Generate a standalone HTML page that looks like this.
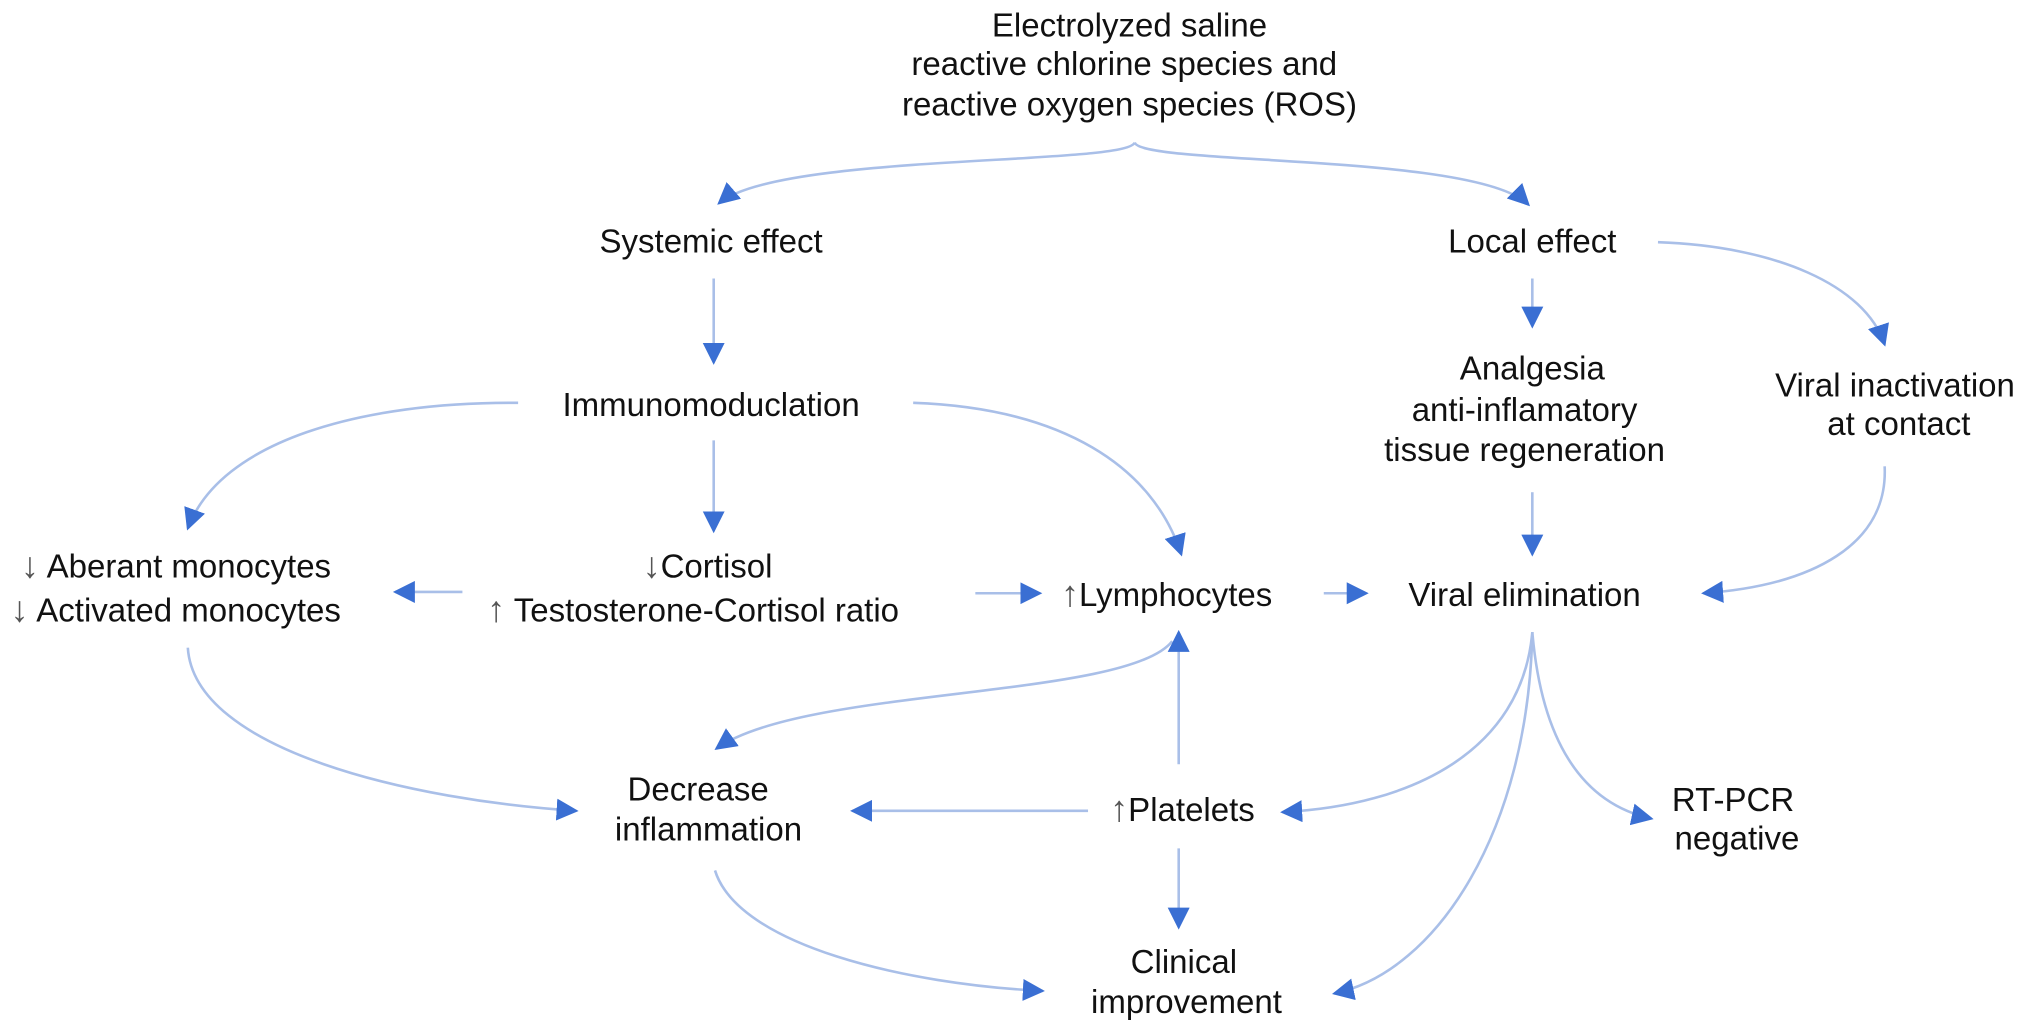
<!DOCTYPE html>
<html><head><meta charset="utf-8"><style>
html,body{margin:0;padding:0;background:#fff;}
svg{display:block;}
text{font-family:"Liberation Sans",Arial,sans-serif;font-size:25.5px;fill:#111;}
</style></head><body>
<svg width="2031" height="1033" viewBox="0 0 1568 797.5" preserveAspectRatio="none" xmlns="http://www.w3.org/2000/svg">
<defs>
<marker id="a" viewBox="0 0 10 10" refX="9" refY="5" markerWidth="17" markerHeight="17" markerUnits="userSpaceOnUse" orient="auto">
<path d="M0,0 L10,5 L0,10 z" fill="#3a6fd3"/>
</marker>
</defs>
<g fill="none" stroke="#a9bfe8" stroke-width="2" marker-end="url(#a)">
<path d="M876,110 C870,128 600,118 555,157"/>
<path d="M876,110 C882,128 1140,118 1180,158"/>
<path d="M551,215 L551,280"/>
<path d="M1183,215 L1183,252"/>
<path d="M1280,187 C1370,190 1440,220 1455,266"/>
<path d="M400,311 C280,310 170,340 145,408"/>
<path d="M551,340 L551,410"/>
<path d="M705,311 C820,315 890,360 912,428"/>
<path d="M357,457 L305,457"/>
<path d="M753,458 L803,458"/>
<path d="M1022,458 L1055,458"/>
<path d="M1183,380 L1183,428"/>
<path d="M1455,360 C1458,420 1400,452 1315,458"/>
<path d="M145,500 C150,580 320,618 445,626"/>
<path d="M905,495 C870,540 620,530 553,578"/>
<path d="M910,590 L910,488"/>
<path d="M840,626 L658,626"/>
<path d="M910,655 L910,716"/>
<path d="M552,672 C570,730 700,760 805,765"/>
<path d="M1183,488 C1175,580 1090,622 990,627"/>
<path d="M1183,488 C1180,640 1110,750 1030,767"/>
<path d="M1183,488 C1190,570 1220,620 1275,632"/>
</g>
<g text-anchor="middle">
<text x="872" y="28">Electrolyzed saline</text>
<text x="868" y="58">reactive chlorine species and</text>
<text x="872" y="89">reactive oxygen species (ROS)</text>
<text x="549" y="195">Systemic effect</text>
<text x="1183" y="195">Local effect</text>
<text x="549" y="321">Immunomoduclation</text>
<text x="1183" y="293">Analgesia</text>
<text x="1177" y="325">anti-inflamatory</text>
<text x="1177" y="356">tissue regeneration</text>
<text x="1463" y="306">Viral inactivation</text>
<text x="1466" y="336">at contact</text>
<text x="1177" y="468">Viral elimination</text>
<text x="539" y="618">Decrease</text>
<text x="547" y="649">inflammation</text>
<text x="914" y="751">Clinical</text>
<text x="916" y="782">improvement</text>
<text x="1338" y="626">RT-PCR</text>
<text x="1341" y="656">negative</text>
</g>
<g>
<text x="16" y="446"><tspan fill="#555" font-size="28">↓</tspan><tspan dx="6">Aberant monocytes</tspan></text>
<text x="8" y="480"><tspan fill="#555" font-size="28">↓</tspan><tspan dx="6">Activated monocytes</tspan></text>
<text x="496" y="446"><tspan fill="#555" font-size="28">↓</tspan>Cortisol</text>
<text x="376" y="480"><tspan fill="#555" font-size="28">↑</tspan> Testosterone-Cortisol ratio</text>
<text x="819" y="468"><tspan fill="#555" font-size="28">↑</tspan>Lymphocytes</text>
<text x="857" y="634"><tspan fill="#555" font-size="28">↑</tspan>Platelets</text>
</g>
</svg>
</body></html>
